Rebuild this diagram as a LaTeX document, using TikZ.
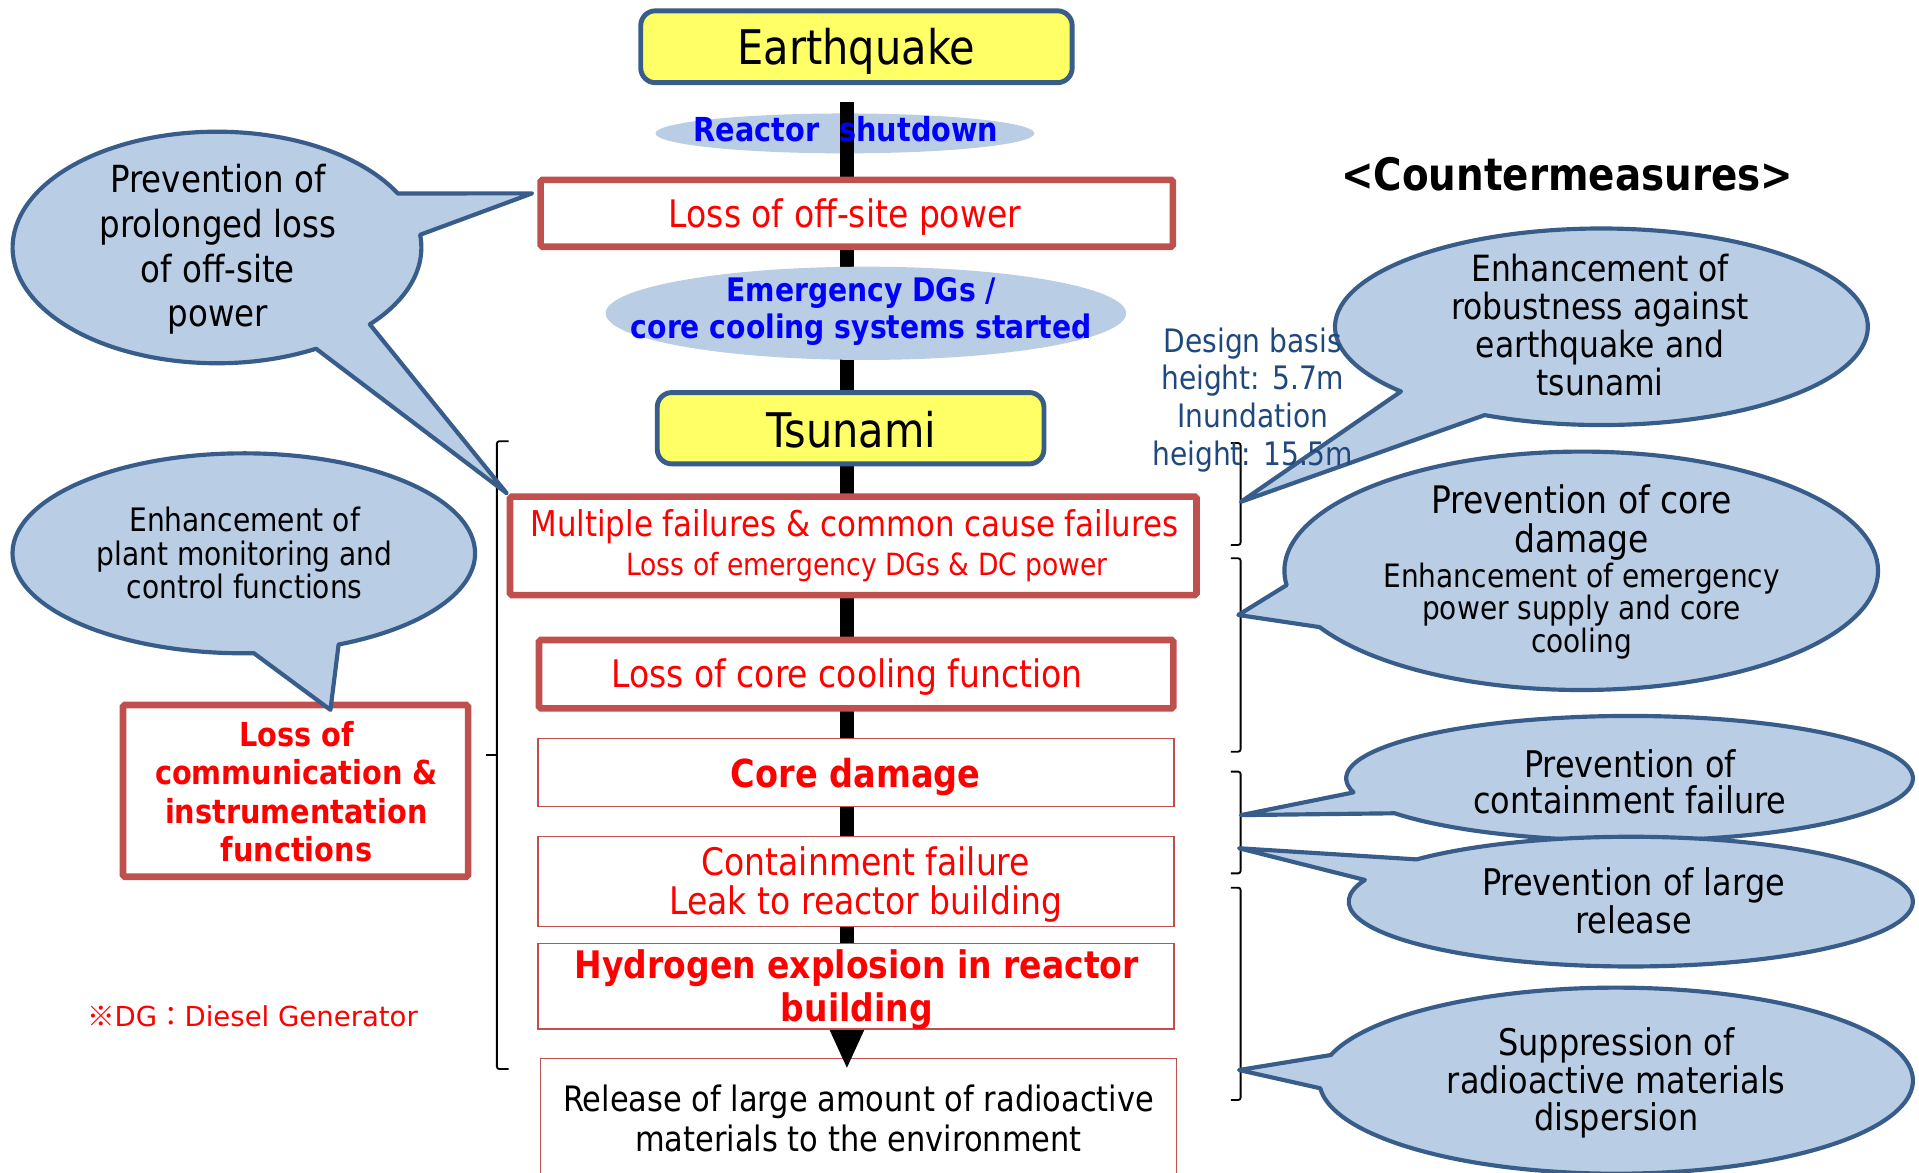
\documentclass[tikz,border=0pt]{standalone}
\usepackage{fontspec}
\setmainfont{DejaVu Sans}[FakeStretch=0.87]
\newfontfamily\cjk{Noto Sans CJK JP}
\newfontfamily\dgfont{DejaVu Sans}
\usetikzlibrary{calc,arrows.meta}
\definecolor{boxred}{HTML}{C0504D}
\definecolor{boxblue}{HTML}{385D8A}
\definecolor{yel}{HTML}{FFFF66}
\definecolor{callfill}{HTML}{B9CDE5}
\definecolor{txtblue}{HTML}{0000FF}
\definecolor{txtred}{HTML}{FF0000}
\definecolor{dblue}{HTML}{1F497D}
\newcommand\setfs[2]{\fontsize{#1}{#2}\selectfont}
% center, rx, ry, t1, tip, t2
\newcommand\calloutpath[6]{%
  \filldraw[callout] ($(#1)+(#4:#2pt and #3pt)$) -- (#5) -- ($(#1)+(#6:#2pt and #3pt)$)
    arc[start angle=#6, end angle={#4+360}, x radius=#2pt, y radius=#3pt] -- cycle;}
\begin{document}
\begin{tikzpicture}[x=1pt,y=1pt,yscale=-1,
  thickbox/.style={draw=boxred, line width=5.4pt, fill=white, rounded corners=1.5pt, inner sep=0pt},
  thinbox/.style={draw=boxred, line width=1.2pt, fill=white, inner sep=0pt},
  yelbox/.style={draw=boxblue, line width=4pt, fill=yel, rounded corners=12pt, inner sep=0pt},
  callout/.style={draw=boxblue, line width=3.4pt, fill=callfill, line join=round},
  flowbar/.style={line width=11.5pt, draw=black, -{Triangle[width=26pt,length=32.5pt]}},
  bracket/.style={draw=black, line width=1.5pt, rounded corners=2pt},
  txt/.style={inner sep=0pt, align=center},
  redt/.style={txt, text=txtred},
  bluet/.style={txt, text=txtblue, font=\bfseries},
]
\useasboundingbox (0,0) rectangle (1568,958);
\clip (0,0) rectangle (1568,958);
\fill[white] (0,0) rectangle (1568,958);

% ---- brackets
\draw[bracket] (415.5,360.5) -- (406,360.5) -- (406,873.5) -- (415.5,873.5);
\draw[bracket] (406,617) -- (397,617);
\draw[bracket] (1005.7,362) -- (1013.7,362) -- (1013.7,445.3) -- (1005.7,445.3);
\draw[bracket] (1005.7,456.2) -- (1013.7,456.2) -- (1013.7,614.2) -- (1005.7,614.2);
\draw[bracket] (1005.7,630.5) -- (1013.7,630.5) -- (1013.7,713.6) -- (1005.7,713.6);
\draw[bracket] (1005.7,725.3) -- (1013.7,725.3) -- (1013.7,898.8) -- (1005.7,898.8);

% ---- reactor shutdown ellipse
\coordinate (e-rs) at (690.4,109);
\fill[callfill] (e-rs) ellipse [x radius=154.8pt, y radius=16.3pt];

% ---- release box (below the arrow)
\node[thinbox, minimum width=519.7pt, minimum height=97.3pt] (b-rel) at (701.5,913.4) {};

% ---- main flow bar
\node[yelbox, minimum width=352.5pt, minimum height=58.7pt] (b-eq) at (699.8,38.2) {};
\coordinate (barx) at (692,0);
\draw[flowbar, shorten <=14pt, shorten >=-9.5pt] (b-eq.south -| barx) -- (b-rel.north -| barx);

% ---- emergency ellipse
\coordinate (e-em) at (707.5,256);
\fill[callfill] (e-em) ellipse [x radius=212.6pt, y radius=38.1pt];

% ---- boxes
\node[thickbox, minimum width=516.6pt, minimum height=54.6pt] (b-offsite) at (700,174.3) {};
\node[yelbox, minimum width=316pt, minimum height=58.3pt] (b-tsu) at (695,349.9) {};
\node[thickbox, minimum width=560.9pt, minimum height=80.5pt] (b-multi) at (697.2,446) {};
\node[thickbox, minimum width=518.3pt, minimum height=55.9pt] (b-cool) at (699.6,550.9) {};
\node[thinbox, minimum width=519.6pt, minimum height=55.8pt] (b-coredmg) at (699.5,631.2) {};
\node[thinbox, minimum width=519.6pt, minimum height=73.6pt] (b-cont) at (699.5,720.4) {};
\node[thinbox, minimum width=519.6pt, minimum height=70pt] (b-hyd) at (699.5,805.8) {};
\node[thickbox, minimum width=282pt, minimum height=140.3pt] (b-comm) at (241.5,646.2) {};

% ---- callouts
\coordinate (cA) at (177.3,202.2);
\coordinate (tipA1) at (434.8,158);
\filldraw[callout] ($(cA)+(-27.8:167pt and 94.6pt)$) -- (tipA1) -- ($(cA)+(-6.3:167pt and 94.6pt)$)
  arc[start angle=-6.3, end angle=41.6, x radius=167pt, y radius=94.6pt]
  -- (b-multi.north west) -- ($(cA)+(61:167pt and 94.6pt)$)
  arc[start angle=61, end angle=332.2, x radius=167pt, y radius=94.6pt] -- cycle;

\coordinate (cF) at (199.2,452.1);
\coordinate (tipF) at (270,580);
\calloutpath{cF}{189}{81.7}{65.8}{tipF}{87.5}

\coordinate (cB) at (1308.5,267);
\coordinate (tipB) at (1014,410);
\calloutpath{cB}{217.7}{80.3}{116}{tipB}{138.8}

\coordinate (cC) at (1292,466.4);
\coordinate (tipC) at (1011.8,502.5);
\calloutpath{cC}{242.5}{97.4}{151.8}{tipC}{173.1}

\coordinate (cD) at (1331.5,636);
\coordinate (tipD) at (1014,666);
\calloutpath{cD}{231.5}{51}{146}{tipD}{167}

\coordinate (cE) at (1332.5,736.7);
\coordinate (tipE) at (1012.4,693.1);
\calloutpath{cE}{230.5}{53}{199.5}{tipE}{220.6}

\coordinate (cS) at (1320.5,883);
\coordinate (tipS) at (1012.4,874.3);
\calloutpath{cS}{242.5}{76}{175.3}{tipS}{196}

% ---- texts
\node[txt, font=\setfs{39}{44}] (t-eq) at (699.7,42.2) {Earthquake};
\node[bluet, font=\setfs{27}{30}\bfseries] (t-rs) at (691.2,105.6) {Reactor\ \ shutdown};
\node[redt, font=\setfs{31}{34}] (t-offsite) at (690.4,177.7) {Loss of off-site power};
\node[bluet, font=\setfs{26.5}{30}\bfseries] (t-emerg) at (703.7,254.7) {Emergency DGs /\\core cooling systems started};
\node[txt, font=\setfs{39}{44}] (t-tsu) at (695.5,351.5) {Tsunami};
\node[redt, font=\setfs{29}{32}] (t-multi1) at (698.2,430.3) {Multiple failures \& common cause failures};
\node[redt, font=\setfs{25}{28}] (t-multi2) at (708.5,463) {Loss of emergency DGs \& DC power};
\node[redt, font=\setfs{31}{34}] (t-cool) at (692.2,553.6) {Loss of core cooling function};
\node[redt, font=\setfs{31.5}{34}\bfseries] (t-coredmg) at (699.1,634.6) {Core damage};
\node[redt, font=\setfs{31}{32}] (t-cont) at (707.5,722.9) {Containment failure\\Leak to reactor building};
\node[redt, font=\setfs{31}{35}\bfseries] (t-hyd) at (700.1,808.4) {Hydrogen explosion in reactor\\building};
\node[txt, font=\setfs{28.6}{33}] (t-rel) at (701.5,914) {Release of large amount of radioactive\\materials to the environment};

\node[redt, font=\setfs{27}{31.3}\bfseries] (t-comm) at (242.2,646.8) {Loss of\\communication \&\\instrumentation\\functions};
\node[txt, font=\setfs{30.5}{36.5}] (t-A) at (178,204) {Prevention of\\prolonged loss\\of off-site\\power};
\node[txt, font=\setfs{26.4}{27.3}] (t-F) at (199.9,452.1) {Enhancement of\\plant monitoring and\\control functions};
\node[redt, font=\dgfont\setfs{22.5}{26}] (t-dg) at (206.3,830.7) {{\cjk ※}DG{\cjk ：}Diesel Generator};

\node[txt, font=\setfs{36.5}{40}\bfseries] (t-counter) at (1280.5,142) {<Countermeasures>};
\node[txt, text=dblue, font=\setfs{26.4}{30.9}] (t-design) at (1023.6,326.8) {Design basis\\height: 5.7m\\Inundation\\height: 15.5m};
\node[txt, font=\setfs{29.5}{30.9}] (t-B) at (1307.4,265.5) {Enhancement of\\robustness against\\earthquake and\\tsunami};
\node[txt, font=\setfs{31}{31.3}] (t-C1) at (1292.3,427) {Prevention of core\\damage};
\node[txt, font=\setfs{26.3}{26.5}] (t-C2) at (1292.3,499) {Enhancement of emergency\\power supply and core\\cooling};
\node[txt, font=\setfs{30}{30}] (t-D) at (1331.8,638.7) {Prevention of\\containment failure};
\node[txt, font=\setfs{30}{31.3}] (t-E) at (1334.7,736) {Prevention of large\\release};
\node[txt, font=\setfs{30}{30.5}] (t-S) at (1320.6,885) {Suppression of\\radioactive materials\\dispersion};
\end{tikzpicture}
\end{document}
